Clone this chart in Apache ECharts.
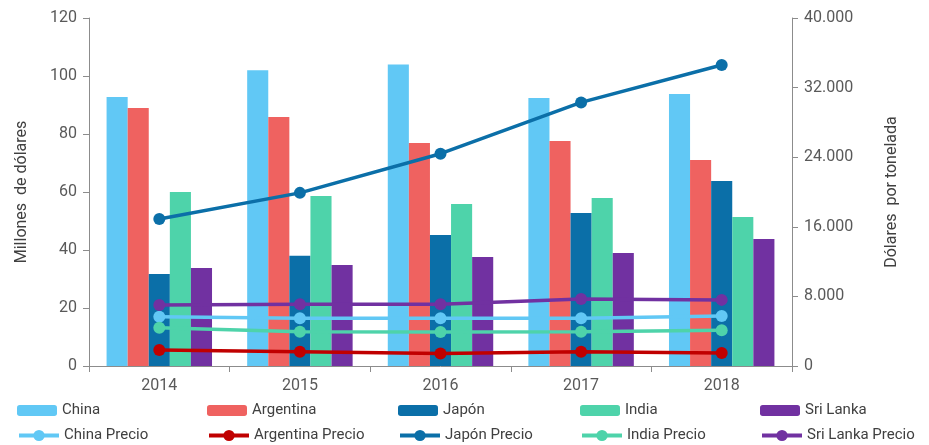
<!DOCTYPE html>
<html><head><meta charset="utf-8">
<script src="https://cdn.jsdelivr.net/npm/echarts@6/dist/echarts.min.js"></script>
<style>html,body{margin:0;padding:0;background:#fff}#c{width:929px;height:445px}</style>
</head><body><div id="c"></div>
<script>
const years = ['2014','2015','2016','2017','2018'];
const chinaVal = [92.8, 102, 104, 92.4, 93.8];
const argentinaVal = [89, 85.9, 76.9, 77.6, 71];
const japonVal = [31.7, 38, 45.2, 52.8, 63.8];
const indiaVal = [60, 58.6, 55.9, 57.9, 51.4];
const sriLankaVal = [33.8, 34.8, 37.6, 39, 43.8];
const chinaPrecio = [5670, 5500, 5500, 5500, 5750];
const argentinaPrecio = [1840, 1650, 1450, 1650, 1500];
const japonPrecio = [16900, 19900, 24400, 30300, 34600];
const indiaPrecio = [4400, 3950, 3900, 3950, 4100];
const sriLankaPrecio = [7000, 7100, 7100, 7700, 7600];
const leftTicks = [0, 20, 40, 60, 80, 100, 120];
const rightTicks = [0, 8000, 16000, 24000, 32000, 40000];

const colors = {China:'#61C8F5', Argentina:'#EF6260', 'Japón':'#0B6FA8', India:'#4ED3AA', 'Sri Lanka':'#7131A1'};
const priceColors = {China:'#61C8F5', Argentina:'#C00000', 'Japón':'#0B6FA8', India:'#4ED3AA', 'Sri Lanka':'#7131A1'};
const names = ['China','Argentina','Japón','India','Sri Lanka'];
const vals = [chinaVal, argentinaVal, japonVal, indiaVal, sriLankaVal];
const prices = [chinaPrecio, argentinaPrecio, japonPrecio, indiaPrecio, sriLankaPrecio];

const font = 'Roboto';
const series = [];
names.forEach((n,i)=>{
  series.push({name:n, type:'bar', yAxisIndex:0, data:vals[i], itemStyle:{color:colors[n]},
    barGap:'0%', barCategoryGap:'25%'});
});
names.forEach((n,i)=>{
  series.push({name:n+' Precio', type:'line', yAxisIndex:1, data:prices[i],
    symbol:'circle', symbolSize:12, lineStyle:{width:3.5, color:priceColors[n]},
    itemStyle:{color:priceColors[n]}, z:3});
});

const legendLefts = [17, 207, 398, 580, 760];
const legends = [];
const lt = {fontFamily:font, fontSize:15, color:'#404040'};
names.forEach((n,i)=>{
  legends.push({data:[n], left:legendLefts[i], top:403, itemWidth:40, itemHeight:11, itemGap:3,
    textStyle:lt, padding:0, selectedMode:false});
  legends.push({data:[n+' Precio'], left:legendLefts[i], top:428, itemWidth:40, itemHeight:14, itemGap:3,
    lineStyle:{width:4}, textStyle:lt, padding:0, selectedMode:false});
});

const axisCommon = {
  axisLine:{show:true, lineStyle:{color:'#8c8c8c'}},
  axisTick:{show:true, length:6, lineStyle:{color:'#8c8c8c'}},
  splitLine:{show:false}
};

const chart = echarts.init(document.getElementById('c'));
chart.setOption({
  animation:false,
  textStyle:{fontFamily:font},
  legend: legends,
  grid:{left:89, right:137, top:18, bottom:79, containLabel:false},
  xAxis:{type:'category', data:years,
    axisLine:{lineStyle:{color:'#8c8c8c'}},
    axisTick:{show:true, length:6, lineStyle:{color:'#8c8c8c'}},
    axisLabel:{fontFamily:font, fontSize:16, color:'#595959', margin:12}},
  yAxis:[
    Object.assign({type:'value', min:0, max:120, interval:20, position:'left',
      name:'Millones  de dólares', nameLocation:'middle', nameGap:59, nameRotate:90,
      nameTextStyle:{fontFamily:font, fontSize:16, color:'#404040'},
      axisLabel:{fontFamily:font, fontSize:16, color:'#595959', margin:12}}, axisCommon),
    Object.assign({type:'value', min:0, max:40000, interval:8000, position:'right',
      name:'Dólares  por tonelada', nameLocation:'middle', nameGap:92, nameRotate:90,
      nameTextStyle:{fontFamily:font, fontSize:16, color:'#404040'},
      axisLabel:{fontFamily:font, fontSize:16, color:'#595959', margin:12,
        formatter:v=>v===0?'0':v.toLocaleString('de-DE')}}, axisCommon)
  ],
  series: series
});
</script></body></html>
